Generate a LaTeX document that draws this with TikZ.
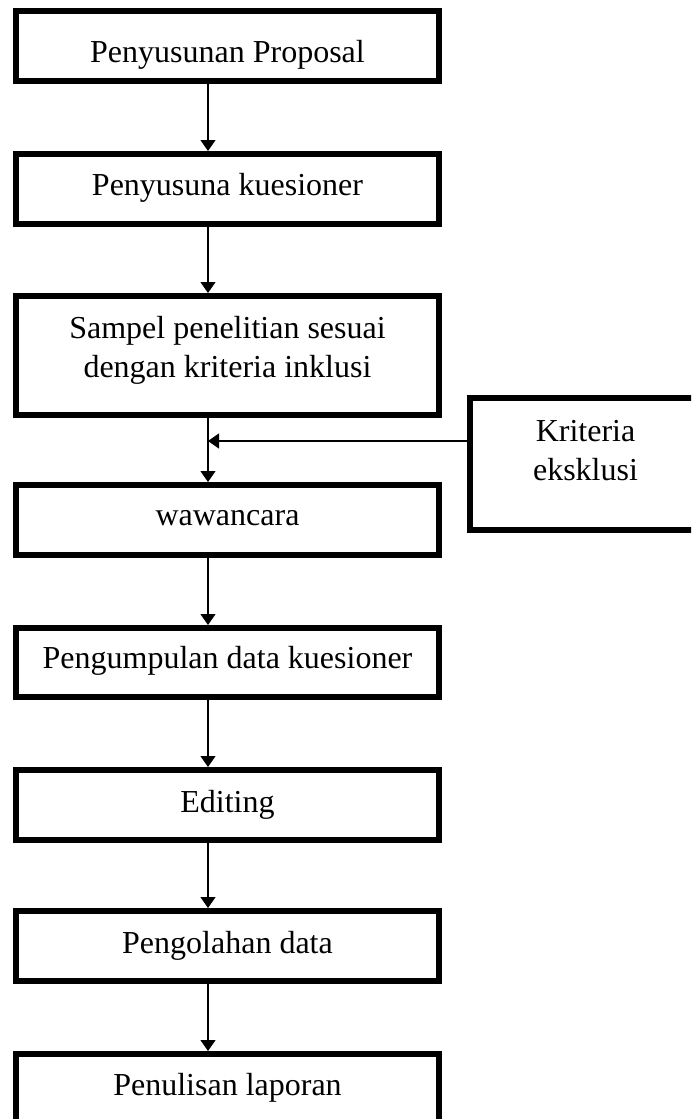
\documentclass[tikz,border=0pt]{standalone}
\usepackage{fontspec}
\setmainfont{Liberation Serif}
\usetikzlibrary{arrows.meta}
\begin{document}
\begin{tikzpicture}[x=0.5pt,y=-0.5pt,
  box/.style={draw=black,line width=3pt,fill=white,inner sep=0pt,
    minimum width=211.5pt,minimum height=35pt},
  lbl/.style={inner sep=0pt,anchor=base,align=center,
    font=\fontsize{16pt}{19.5pt}\selectfont},
  arr/.style={line width=0.65pt,-{Triangle[length=5.5pt,width=7.5pt]}}]
\useasboundingbox (0,0) rectangle (691,1119);
\fill[white] (0,0) rectangle (691,1119);
\clip (0,0) rectangle (691,1119);
% boxes
\node[box] (b1) at (227.5,46) {};
\node[box] (b2) at (227.5,189) {};
\node[box,minimum height=59.5pt] (b3) at (227.5,355.5) {};
\node[box,minimum width=115.5pt,minimum height=66pt] (bk) at (585.5,464) {};
\node[box] (b4) at (227.5,520) {};
\node[box,minimum height=34.5pt] (b5) at (227.5,662.5) {};
\node[box] (b6) at (227.5,805) {};
\node[box] (b7) at (227.5,946) {};
\node[box] (b8) at (227.5,1089) {};
% texts
\node[lbl] (t1) at (227.5,62.5) {Penyusunan Proposal};
\node[lbl] (t2) at (227.5,195) {Penyusuna kuesioner};
\node[lbl] (t3) at (227.5,377) {Sampel penelitian sesuai\\dengan kriteria inklusi};
\node[lbl] (tk) at (585.5,480) {Kriteria\\eksklusi};
\node[lbl] (t4) at (227.5,525) {wawancara};
\node[lbl] (t5) at (227.5,668) {Pengumpulan data kuesioner};
\node[lbl] (t6) at (227.5,812) {Editing};
\node[lbl] (t7) at (227.5,953) {Pengolahan data};
\node[lbl] (t8) at (227.5,1095) {Penulisan laporan};
% connectors
\coordinate (ax) at (208,0);
\coordinate (ey) at (0,441);
\draw[arr] (b1.south -| ax) -- (b2.north -| ax);
\draw[arr] (b2.south -| ax) -- (b3.north -| ax);
\draw[arr] (b3.south -| ax) -- (b4.north -| ax);
\draw[arr] (bk.west |- ey) -- (ax |- ey);
\draw[arr] (b4.south -| ax) -- (b5.north -| ax);
\draw[arr] (b5.south -| ax) -- (b6.north -| ax);
\draw[arr] (b6.south -| ax) -- (b7.north -| ax);
\draw[arr] (b7.south -| ax) -- (b8.north -| ax);
\end{tikzpicture}
\end{document}
